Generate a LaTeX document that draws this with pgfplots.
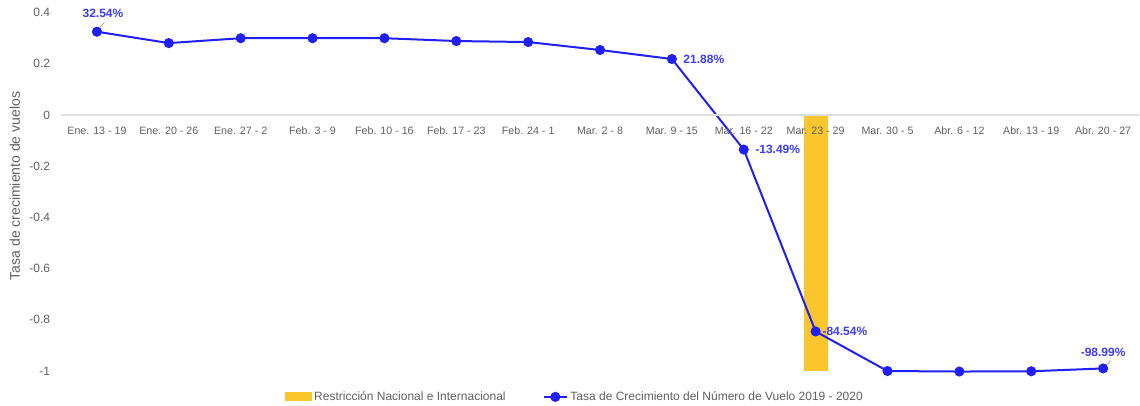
\documentclass[border=0pt]{standalone}
\usepackage{fontspec}
\setmainfont{Liberation Sans}
\usepackage{pgfplots}
\pgfplotsset{compat=1.18}

\definecolor{barYellow}{RGB}{249,198,46}
\definecolor{lineBlue}{RGB}{32,32,245}
\definecolor{lblBlue}{RGB}{60,60,255}
\definecolor{txtGray}{RGB}{95,95,95}
\definecolor{zeroGray}{RGB}{222,222,222}

\begin{document}
\begin{tikzpicture}
\begin{axis}[
  scale only axis,
  width=808.5pt, height=278.4pt,
  xmin=-0.5, xmax=14.5,
  ymin=-1.03, ymax=0.42,
  axis on top,
  axis x line=middle,
  axis y line=left,
  hide obscured x ticks=false,
  hide obscured y ticks=false,
  x axis line style={draw=zeroGray, line width=1.5pt, -},
  y axis line style={draw=none},
  tick style={draw=none},
  xtick={0,...,14},
  xticklabels={Ene. 13 - 19, Ene. 20 - 26, Ene. 27 - 2, Feb. 3 - 9, Feb. 10 - 16,
    Feb. 17 - 23, Feb. 24 - 1, Mar. 2 - 8, Mar. 9 - 15, Mar. 16 - 22,
    Mar. 23 - 29, Mar. 30 - 5, Abr. 6 - 12, Abr. 13 - 19, Abr. 20 - 27},
  xticklabel style={font=\fontsize{8}{9}\selectfont, text=txtGray, yshift=-3pt},
  ytick={-1,-0.8,-0.6,-0.4,-0.2,0,0.2,0.4},
  yticklabel style={font=\fontsize{9}{10}\selectfont, text=txtGray, xshift=-2.5pt},
  /pgf/number format/assume math mode=true,
  /pgf/number format/fixed,
  ylabel={Tasa de crecimiento de vuelos},
  ylabel style={at={(rel axis cs:-0.0427,0.519)}, anchor=center, rotate=0,
    font=\fontsize{10.5}{12}\selectfont, text=txtGray},
  legend columns=2,
  legend style={at={(rel axis cs:0.477,-0.049)}, anchor=center, draw=none, fill=none,
    font=\fontsize{9}{10}\selectfont, text=txtGray,
    /tikz/every even column/.append style={column sep=26pt}},
  clip=false,
]
\addplot[ybar, bar width=18pt, fill=barYellow, draw=none,
  area legend,
  legend image code/.code={\fill[barYellow] (0cm,-0.1cm) rectangle (0.7cm,0.12cm);}]
  coordinates {(10,-1)};
\addlegendentry{Restricción Nacional e Internacional}

\addplot[color=lineBlue, line width=1.5pt, mark=*, mark size=3pt,
  mark options={fill=lineBlue, draw=lineBlue}]
  coordinates {
    (0,0.3254) (1,0.281) (2,0.300) (3,0.300) (4,0.300)
    (5,0.289) (6,0.285) (7,0.254) (8,0.2188) (9,-0.1349)
    (10,-0.8454) (11,-1.000) (12,-1.002) (13,-1.001) (14,-0.9899)
  };
\addlegendentry{Tasa de Crecimiento del Número de Vuelo 2019 - 2020}

\draw[gray!70, line width=0.6pt] (axis cs:0,0.3254) ++(2pt,3pt) -- ++(3.5pt,4pt);
\draw[gray!70, line width=0.6pt] (axis cs:14,-0.9899) ++(2pt,2pt) -- ++(3.5pt,4pt);

\tikzset{lbl/.style={font=\bfseries\fontsize{9}{10}\selectfont, text=lblBlue, inner sep=0pt}}
\node[lbl, anchor=center] at ([xshift=4.5pt,yshift=13.5pt]axis cs:0,0.3254) {32.54\%};
\node[lbl, anchor=west] at ([xshift=8.5pt]axis cs:8,0.2188) {21.88\%};
\node[lbl, anchor=west] at ([xshift=8.5pt]axis cs:9,-0.1349) {-13.49\%};
\node[lbl, anchor=west] at ([xshift=5pt]axis cs:10,-0.8454) {-84.54\%};
\node[lbl, anchor=center] at ([xshift=0pt,yshift=12pt]axis cs:14,-0.9899) {-98.99\%};

\coordinate (bbl) at (rel axis cs:-0.0566,-0.0735);
\coordinate (btr) at (rel axis cs:1.0009,1.0202);
\end{axis}
\pgfresetboundingbox
\path (bbl) rectangle (btr);
\end{tikzpicture}
\end{document}
